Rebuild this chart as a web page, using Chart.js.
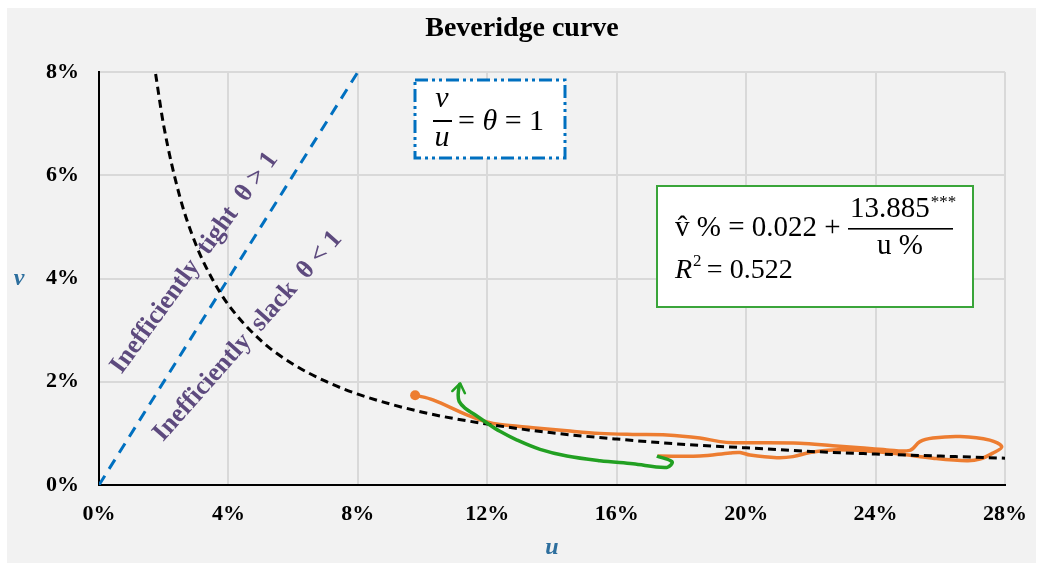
<!DOCTYPE html>
<html>
<head>
<meta charset="utf-8">
<script src="https://cdn.jsdelivr.net/npm/chart.js@4.4.1/dist/chart.umd.min.js"></script>
<style>
  html,body{margin:0;padding:0;background:#fff;overflow:hidden;}
  #wrap{width:1038px;height:563px;position:relative;overflow:hidden;}
  #bc{display:block;}
</style>
</head>
<body>
<div id="wrap"><canvas id="bc"></canvas></div>
<script>
/* ---- dados (u %, v %) ---- */
const xTicks = [0,4,8,12,16,20,24,28];
const yTicks = [0,2,4,6,8];

// curva ajustada (tracejada preta)
const fitU = [1.75,2,2.5,3,3.5,4,5,6,7,8,10,12,14,16,18,20,22,24,26,28];
const fitV = [7.96,6.96,5.58,4.65,3.99,3.49,2.80,2.34,2.01,1.76,1.41,1.18,1.01,0.89,0.79,0.72,0.65,0.60,0.56,0.52];

// v/u = 1 (tracejada azul)
const thetaU = [0,8];
const thetaV = [0,8];

// trajetória laranja
const orangeU = [9.77,10.32,11.37,11.99,12.39,13.41,14.46,15.48,16.50,17.55,18.57,19.19,19.59,21.66,22.68,23.52,24.35,25.06,25.37,25.77,26.61,27.53,27.90,27.63,27.22,26.82,25.77,24.75,23.73,22.68,21.97,21.45,20.95,20.12,19.81,19.50,18.57,17.27];
const orangeV = [1.74,1.65,1.36,1.22,1.17,1.11,1.05,1.00,0.98,0.97,0.91,0.84,0.82,0.81,0.76,0.72,0.68,0.67,0.84,0.91,0.94,0.87,0.74,0.62,0.50,0.47,0.52,0.60,0.66,0.68,0.63,0.55,0.53,0.58,0.63,0.62,0.56,0.56];

// trajetória verde (termina com seta)
const greenU = [17.24,17.71,17.55,16.50,15.48,14.46,13.63,12.92,12.39,11.99,11.62,11.31,11.13,11.10,11.13,11.16];
const greenV = [0.56,0.45,0.34,0.41,0.47,0.56,0.69,0.87,1.04,1.20,1.36,1.49,1.62,1.75,1.91,1.97];

const pts = (xs,ys)=>xs.map((x,i)=>({x, y:ys[i]}));

const SERIF = '"Liberation Serif","Times New Roman",serif';
const PURPLE = '#5d4a7e';
const AXIS_BLUE = '#2e6f9e';

/* ---- plugin: fundo, textos, caixas, seta ---- */
const decor = {
  id:'decor',
  beforeDraw(chart){
    const c = chart.ctx;
    c.save();
    c.fillStyle='#fff'; c.fillRect(0,0,chart.width,chart.height);
    c.fillStyle='#f2f2f2'; c.fillRect(7,8,1029,chart.height-8);
    c.restore();
  },
  afterDraw(chart){
    const c = chart.ctx;
    const xs = chart.scales.x, ys = chart.scales.y;
    c.save();

    // título
    c.fillStyle='#000';
    c.font='bold 28px '+SERIF;
    c.textAlign='center'; c.textBaseline='middle';
    c.fillText('Beveridge curve', 522, 29);

    // títulos dos eixos
    c.fillStyle=AXIS_BLUE;
    c.font='italic bold 24px '+SERIF;
    c.fillText('u', (xs.left+xs.right)/2, 548);
    c.fillText('v', 19, ys.getPixelForValue(4));

    // rótulos rotacionados
    c.fillStyle=PURPLE;
    c.font='bold 26px '+SERIF;
    c.save();
    c.translate(xs.getPixelForValue(2.95), ys.getPixelForValue(4.3));
    c.rotate(-54*Math.PI/180);
    c.fillText('Inefficiently  tight  \u03B8 > 1', 0, 0);
    c.restore();
    c.save();
    c.translate(xs.getPixelForValue(4.6), ys.getPixelForValue(2.88));
    c.rotate(-48.5*Math.PI/180);
    c.fillText('Inefficiently  slack  \u03B8 < 1', 0, 0);
    c.restore();

    // caixa v/u = θ = 1
    c.fillStyle='#fff';
    c.fillRect(415,80,150,78);
    c.strokeStyle='#0070c0'; c.lineWidth=3;
    c.setLineDash([13,4,3,4,3,4]);
    c.strokeRect(415,80,150,78);
    c.setLineDash([]);
    c.fillStyle='#000';
    c.textAlign='center'; c.textBaseline='alphabetic';
    c.font='italic 30px '+SERIF;
    c.fillText('v', 442, 107);
    c.fillText('u', 442, 146);
    c.fillRect(433,120,19,2);
    c.textAlign='left';
    c.font='30px '+SERIF;
    let x = 458;
    c.fillText('=', x, 130); x += c.measureText('= ').width;
    c.font='italic 30px '+SERIF;
    c.fillText('\u03B8', x, 130); x += c.measureText('\u03B8 ').width;
    c.font='30px '+SERIF;
    c.fillText('= 1', x, 130);

    // caixa da regressão
    c.fillStyle='#fff';
    c.fillRect(657,186,316,121);
    c.strokeStyle='#3aa53a'; c.lineWidth=2;
    c.strokeRect(657,186,316,121);
    c.fillStyle='#000';
    c.font='29px '+SERIF;
    c.textAlign='left';
    c.fillText('v\u0302 % = 0.022 +', 675, 236);
    c.fillText('13.885', 850, 217);
    const nw = c.measureText('13.885').width;
    c.font='17px '+SERIF;
    c.fillText('***', 850+nw+1, 207);
    c.fillRect(848,228,105,1.6);
    c.font='29px '+SERIF;
    c.textAlign='center';
    c.fillText('u %', 900, 254);
    c.textAlign='left';
    c.font='italic 28px '+SERIF;
    c.fillText('R', 675, 278);
    let rx = 675 + c.measureText('R').width + 1;
    c.font='17px '+SERIF;
    c.fillText('2', rx, 266);
    rx += c.measureText('2 ').width + 1;
    c.font='28px '+SERIF;
    c.fillText('= 0.522', rx, 278);

    // seta no fim da trajetória verde
    const meta = chart.getDatasetMeta(0);
    const n = meta.data.length;
    const p1 = meta.data[n-1], p0 = meta.data[n-3];
    const ang = Math.atan2(p1.y-p0.y, p1.x-p0.x);
    const L = 11, A = 0.62;
    c.strokeStyle='#22a022'; c.lineWidth=2.5; c.lineCap='round'; c.lineJoin='round';
    c.beginPath();
    c.moveTo(p1.x - L*Math.cos(ang-A), p1.y - L*Math.sin(ang-A));
    c.lineTo(p1.x, p1.y);
    c.lineTo(p1.x - L*Math.cos(ang+A), p1.y - L*Math.sin(ang+A));
    c.stroke();

    c.restore();
  }
};

const tickFont = {family:SERIF, size:22, weight:'bold'};

new Chart(document.getElementById('bc'),{
  type:'scatter',
  data:{
    datasets:[
      {label:'green', data:pts(greenU,greenV), showLine:true, borderColor:'#22a022', borderWidth:3.5,
       pointRadius:0, tension:0.35, order:1},
      {label:'fit', data:pts(fitU,fitV), showLine:true, borderColor:'#000', borderWidth:3,
       borderDash:[8,5], pointRadius:0, cubicInterpolationMode:'monotone', order:2},
      {label:'orange', data:pts(orangeU,orangeV), showLine:true, borderColor:'#ed7d31', borderWidth:3.5,
       pointRadius:orangeU.map((_,i)=>i===0?5:0), pointBackgroundColor:'#ed7d31', pointBorderWidth:0,
       tension:0.35, order:3},
      {label:'theta', data:pts(thetaU,thetaV), showLine:true, borderColor:'#0070c0', borderWidth:3,
       borderDash:[11,8], pointRadius:0, order:4}
    ]
  },
  options:{
    responsive:true,
    maintainAspectRatio:false,
    animation:false,
    layout:{padding:{left:7,right:33,top:72,bottom:0}},
    plugins:{legend:{display:false}, tooltip:{enabled:false}, title:{display:false}},
    scales:{
      x:{
        type:'linear', min:0, max:28,
        afterBuildTicks:(s)=>{ s.ticks = xTicks.map(v=>({value:v})); },
        afterFit:(s)=>{ s.height = 78; s.paddingLeft = 0; s.paddingRight = 0; },
        grid:{color:'#d9d9d9', lineWidth:2, drawTicks:false},
        border:{color:'#000', width:2},
        ticks:{color:'#000', font:tickFont, padding:16, callback:(v)=>v+'%', maxRotation:0}
      },
      y:{
        type:'linear', min:0, max:8,
        afterBuildTicks:(s)=>{ s.ticks = yTicks.map(v=>({value:v})); },
        afterFit:(s)=>{ s.width = 92; },
        grid:{color:'#d9d9d9', lineWidth:2, drawTicks:false},
        border:{color:'#000', width:2},
        ticks:{color:'#000', font:tickFont, padding:20, callback:(v)=>v+'%'}
      }
    }
  },
  plugins:[decor]
});
</script>
</body>
</html>
